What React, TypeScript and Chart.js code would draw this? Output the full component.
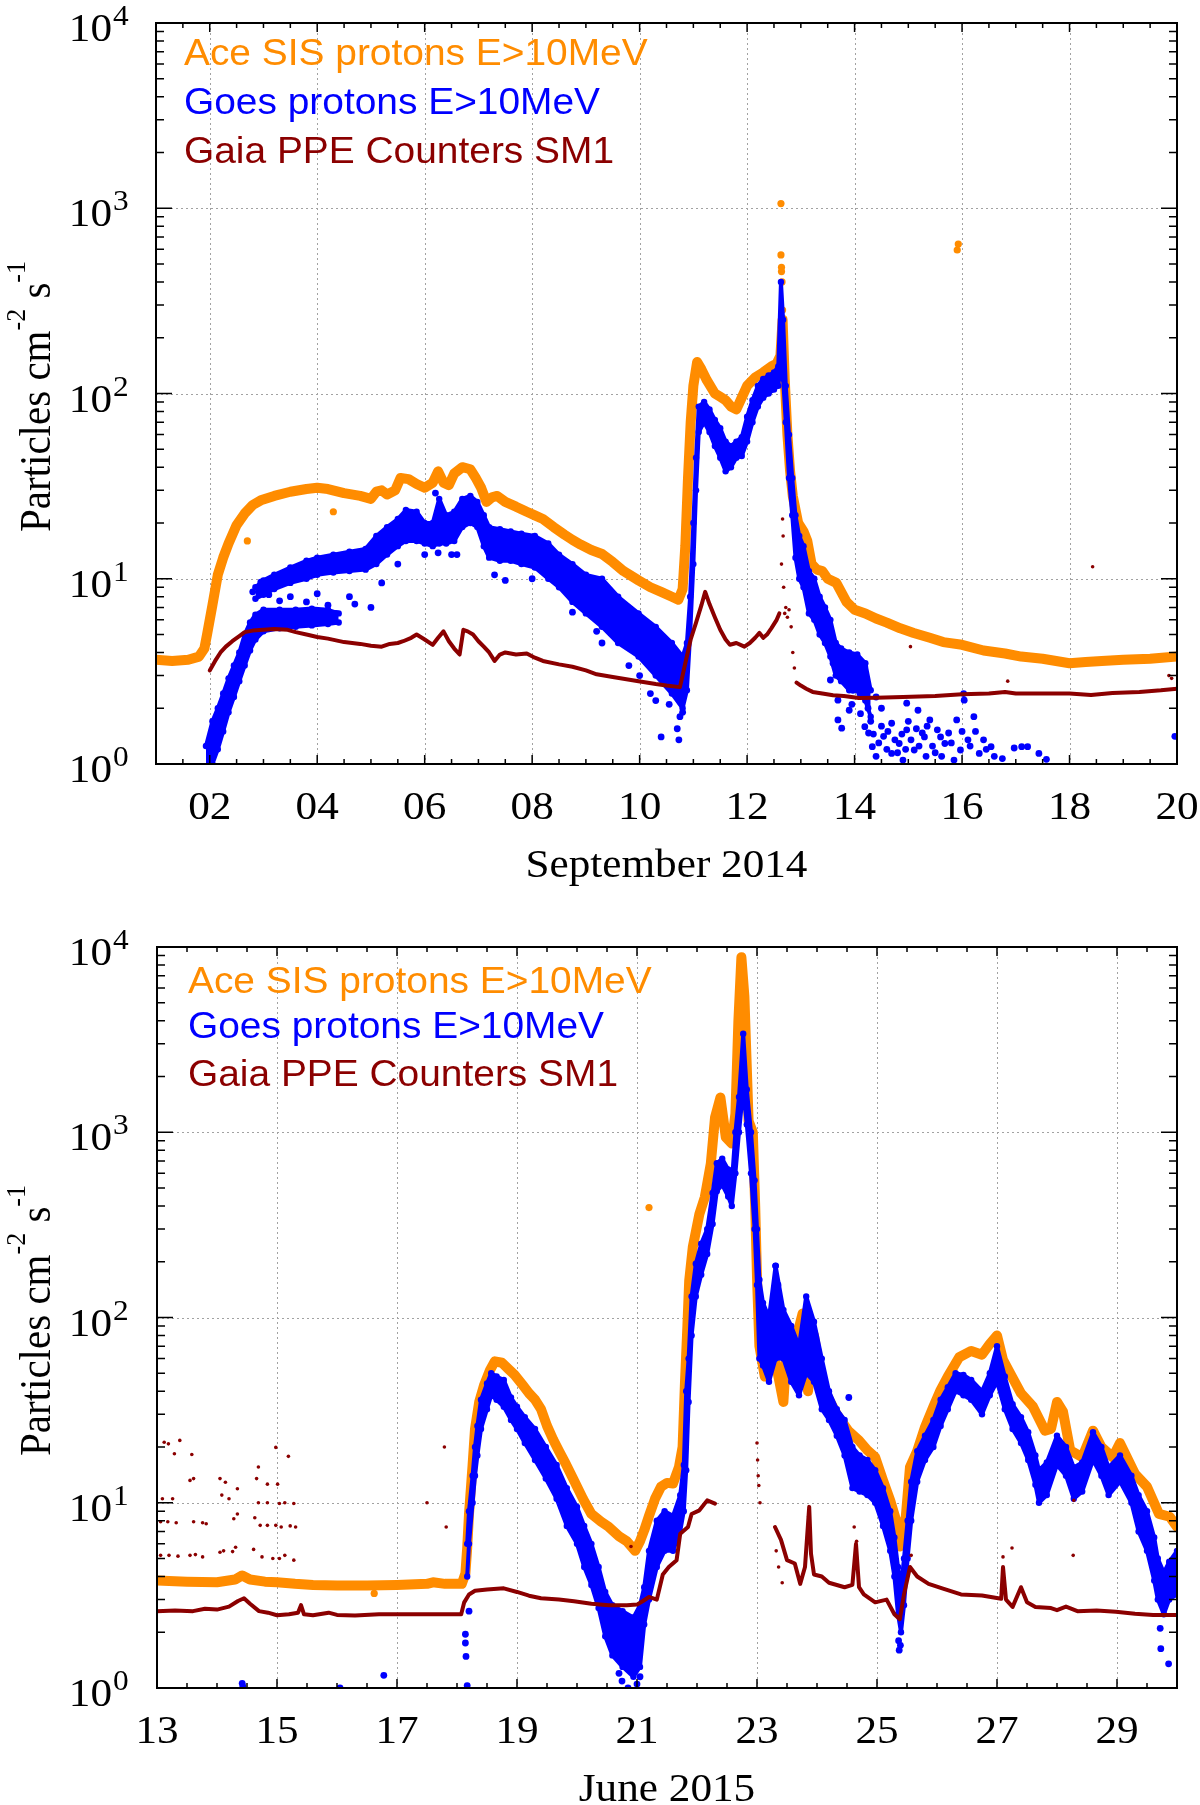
import React, { useEffect, useRef } from 'react';
import { Chart, registerables } from 'chart.js';

Chart.register(...registerables);

type P = [number, number];
type T = [number, number, number]; // [day, upper, lower]

const ORANGE = '#FF8C00';
const BLUE = '#0000FF';
const RED = '#8B0000';
const SERIF = '"Liberation Serif", "Times New Roman", Times, serif';
const SANS = '"Liberation Sans", Arial, Helvetica, sans-serif';
const SX = 1.08;

const LEGEND_TEXTS = ['Ace SIS protons E>10MeV', 'Goes protons E>10MeV', 'Gaia PPE Counters SM1'];
const LEGEND_COLORS = [ORANGE, BLUE, RED];
const Y_EXPONENTS = [0, 1, 2, 3, 4];

// ---------------- September 2014 ----------------
const sepTickDays = [2, 4, 6, 8, 10, 12, 14, 16, 18, 20];
const sepTitle = 'September 2014';

const sepAce: P[] = [
  [1.0, 3.65], [1.3, 3.6], [1.6, 3.65], [1.8, 3.8], [1.9, 4.2], [1.95, 5.0], [2.05, 7.2], [2.15, 10.5],
  [2.25, 13], [2.35, 15.5], [2.5, 19.5], [2.65, 22.5], [2.8, 25], [2.95, 26.5], [3.2, 28], [3.5, 29.5],
  [3.8, 30.5], [4.0, 31], [4.2, 30.5], [4.5, 29], [4.8, 28], [5.0, 27], [5.1, 29.5], [5.2, 30],
  [5.3, 28.5], [5.45, 30], [5.55, 35], [5.7, 34.5], [5.85, 32.5], [6.0, 31], [6.15, 33], [6.25, 38],
  [6.35, 33], [6.45, 32], [6.55, 37], [6.7, 40], [6.85, 39], [6.95, 35], [7.05, 31], [7.15, 26],
  [7.25, 27.5], [7.35, 28], [7.5, 26], [7.7, 24.5], [7.9, 23], [8.05, 22], [8.2, 21], [8.4, 19],
  [8.6, 17.3], [8.75, 16.2], [8.9, 15.3], [9.1, 14.3], [9.3, 13.6], [9.5, 12.3], [9.7, 11], [9.98, 9.8],
  [10.2, 9], [10.4, 8.5], [10.6, 8], [10.72, 7.7], [10.8, 8.8], [10.85, 15], [10.9, 35], [10.95, 70],
  [11.0, 110], [11.07, 148], [11.15, 135], [11.25, 118], [11.4, 100], [11.5, 96], [11.6, 92], [11.7, 85],
  [11.8, 82], [11.9, 95], [12.0, 110], [12.15, 122], [12.3, 130], [12.45, 140], [12.55, 145], [12.62, 160],
  [12.66, 250], [12.7, 120], [12.75, 60], [12.8, 38], [12.85, 28], [12.95, 20], [13.05, 18], [13.12, 16],
  [13.2, 12], [13.3, 11.2], [13.4, 11], [13.5, 10], [13.66, 9.5], [13.75, 8.5], [13.85, 7.5], [14.0, 6.8],
  [14.2, 6.5], [14.4, 6.1], [14.6, 5.8], [14.85, 5.4], [15.1, 5.1], [15.4, 4.8], [15.65, 4.55], [16.0, 4.4],
  [16.4, 4.1], [16.8, 3.95], [17.1, 3.8], [17.5, 3.7], [18.0, 3.5], [18.3, 3.55], [18.6, 3.6], [19.0, 3.65],
  [19.5, 3.7], [20.0, 3.8],
];
const sepAceDots: P[] = [
  [2.7, 16], [4.3, 23], [12.63, 1060], [12.63, 560], [12.64, 480], [12.64, 455], [12.65, 400],
  [12.66, 282], [15.91, 595], [15.93, 641],
];

const sepGoesRise: T[] = [
  [1.93, 1.25, 0.9], [2.05, 1.7, 1.0], [2.15, 2.0, 1.2], [2.25, 2.4, 1.5], [2.35, 2.9, 1.9],
  [2.45, 3.4, 2.3], [2.55, 4.0, 2.8], [2.65, 5.0, 3.4], [2.75, 5.8, 4.1], [2.85, 6.4, 4.7],
  [3.0, 6.8, 5.2], [3.3, 6.8, 5.4], [3.6, 6.8, 5.5], [3.9, 6.9, 5.6], [4.2, 6.8, 5.7], [4.4, 6.5, 5.8],
];
const sepGoesMain: T[] = [
  [2.85, 9.0, 7.8], [3.0, 9.8, 8.2], [3.2, 10.5, 8.8], [3.5, 11.5, 9.5], [3.8, 12.5, 10], [4.0, 13, 10.5],
  [4.3, 13.5, 10.8], [4.6, 14, 11], [4.9, 14.5, 11.2], [5.1, 17, 12], [5.3, 19, 13.5], [5.5, 21, 15],
  [5.65, 23.5, 16], [5.85, 23, 16], [6.0, 20, 15.5], [6.15, 20, 15], [6.27, 27, 15.5], [6.4, 22, 15.5],
  [6.55, 23, 16], [6.7, 27, 19], [6.85, 28, 20], [6.98, 26, 19], [7.1, 22, 15], [7.2, 19, 13],
  [7.4, 18.5, 12.5], [7.6, 18, 12.5], [7.8, 17.5, 12], [8.05, 17, 11.5], [8.3, 15.5, 10], [8.5, 13.5, 9],
  [8.75, 12, 7.5], [9.0, 10.5, 6.5], [9.3, 10, 5.5], [9.6, 8, 4.5], [9.98, 6.5, 3.8], [10.3, 5.5, 3.0],
  [10.6, 4.5, 2.4], [10.8, 3.8, 2.0], [10.88, 4.5, 2.5], [10.94, 8, 5], [11.0, 20, 12], [11.05, 45, 30],
  [11.1, 85, 62], [11.2, 90, 70], [11.3, 82, 62], [11.4, 72, 52], [11.5, 65, 45], [11.6, 55, 38],
  [11.7, 52, 40], [11.8, 55, 45], [11.9, 58, 46], [12.0, 75, 55], [12.1, 92, 70], [12.2, 110, 85],
  [12.3, 120, 95], [12.4, 125, 100], [12.5, 130, 105], [12.58, 140, 110], [12.63, 400, 150],
  [12.67, 250, 120], [12.72, 110, 70], [12.78, 60, 35], [12.84, 35, 22], [12.9, 22, 13], [12.97, 17, 10],
  [13.05, 15, 9], [13.15, 11, 6.5], [13.25, 10, 6], [13.35, 8, 5], [13.45, 7, 4.5], [13.55, 6, 3.8],
  [13.65, 4.5, 3.0], [13.75, 4.2, 2.8], [13.9, 4.0, 2.5], [14.05, 3.9, 2.5], [14.2, 3.5, 2.2], [14.3, 2.5, 1.8],
];
const sepGoesDots: P[] = [
  [2.8, 8.5], [2.95, 9.6], [3.1, 8.2], [3.3, 7.6], [3.5, 8.0], [3.8, 7.5], [4.0, 8.3], [4.2, 7.2],
  [4.35, 6.5], [4.6, 8], [4.7, 7.3], [5.0, 7.0], [5.2, 9.5], [5.5, 12], [6.0, 13.5], [6.2, 29],
  [6.25, 13.8], [6.5, 13.5], [6.6, 13.5], [7.3, 10.5], [7.5, 9.8], [8.0, 10], [8.75, 6.6], [9.2, 5.2],
  [9.3, 4.5], [9.8, 3.4], [10.0, 3.0], [10.2, 2.4], [10.3, 2.2], [10.4, 1.4], [10.55, 2.1], [10.7, 1.55],
  [10.73, 1.35], [10.75, 1.8], [10.8, 1.9],
  [13.55, 2.84], [13.69, 2.21], [13.69, 1.73], [13.69, 3.2], [13.76, 1.56], [13.83, 3.8], [13.9, 1.95],
  [13.97, 2.5], [14.05, 3.35], [14.11, 1.87], [14.19, 1.59], [14.19, 3.35], [14.19, 2.6], [14.26, 1.47],
  [14.33, 1.24], [14.4, 1.1], [14.54, 1.41], [14.69, 1.66], [14.69, 1.14], [14.83, 1.29], [14.9, 1.05],
  [14.97, 2.13], [14.97, 1.53], [15.11, 1.19], [15.18, 1.95], [15.26, 1.47], [15.33, 1.1], [15.4, 1.73],
  [15.54, 1.53], [15.68, 1.29], [15.75, 1.47], [15.9, 1.73], [15.97, 1.19], [16.04, 2.21], [16.11, 1.35],
  [16.22, 1.8], [16.32, 1.14], [16.4, 1.35], [16.54, 1.24], [16.75, 1.07], [16.97, 1.22], [17.11, 1.24],
  [17.22, 1.24], [17.43, 1.14], [17.57, 1.06], [19.96, 1.41],
  [14.3, 1.7], [14.35, 1.45], [14.45, 1.3], [14.5, 1.6], [14.6, 1.2], [14.62, 1.5], [14.75, 1.35],
  [14.8, 1.15], [14.88, 1.45], [14.95, 1.2], [15.0, 1.7], [15.05, 1.35], [15.15, 1.55], [15.2, 1.25],
  [15.3, 1.4], [15.35, 1.6], [15.45, 1.25], [15.5, 1.15], [15.6, 1.4], [15.62, 1.1], [15.8, 1.3],
  [15.85, 1.05], [16.0, 1.5], [16.15, 1.25], [16.25, 1.5], [16.45, 1.2], [16.6, 1.1], [13.6, 3.5],
  [13.8, 2.9], [13.95, 2.1], [14.1, 2.4], [14.15, 3.0], [14.25, 2.0], [14.4, 2.3], [14.5, 2.0], [16.03, 2.4],
];

const sepGaiaA: P[] = [
  [2.0, 3.2], [2.1, 3.6], [2.2, 4.0], [2.3, 4.3], [2.42, 4.6], [2.55, 4.9], [2.65, 5.15], [2.8, 5.25],
  [3.0, 5.3], [3.2, 5.35], [3.45, 5.3], [3.6, 5.15], [3.8, 5.0], [4.0, 4.85], [4.2, 4.75], [4.5, 4.55],
  [4.8, 4.45], [5.0, 4.35], [5.2, 4.3], [5.35, 4.45], [5.5, 4.5], [5.6, 4.6], [5.75, 4.8], [5.85, 5.0],
  [6.0, 4.7], [6.15, 4.4], [6.25, 4.8], [6.35, 5.2], [6.45, 4.6], [6.55, 4.2], [6.65, 3.9], [6.72, 5.3],
  [6.8, 5.2], [6.9, 5.0], [7.0, 4.6], [7.1, 4.3], [7.2, 4.0], [7.3, 3.6], [7.4, 3.9], [7.5, 4.0],
  [7.7, 3.9], [7.9, 3.95], [8.05, 3.75], [8.2, 3.6], [8.5, 3.45], [8.75, 3.35], [9.0, 3.2], [9.2, 3.05],
  [9.5, 2.95], [9.98, 2.8], [10.3, 2.7], [10.5, 2.65], [10.75, 2.6], [10.85, 3.5], [10.95, 4.7],
  [11.05, 5.8], [11.15, 7.2], [11.22, 8.5], [11.3, 7.3], [11.4, 6.2], [11.5, 5.3], [11.6, 4.7],
  [11.68, 4.4], [11.8, 4.5], [11.95, 4.3], [12.05, 4.5], [12.15, 4.8], [12.23, 5.1], [12.3, 4.8],
  [12.37, 5.0], [12.45, 5.4], [12.55, 6.0], [12.6, 6.5],
];
const sepGaiaB: P[] = [
  [12.92, 2.75], [13.0, 2.65], [13.1, 2.55], [13.22, 2.45], [13.4, 2.4], [13.6, 2.35], [13.8, 2.33],
  [14.08, 2.27], [14.4, 2.28], [14.9, 2.3], [15.5, 2.33], [16.0, 2.38], [16.5, 2.4], [16.8, 2.45],
  [17.0, 2.4], [17.5, 2.4], [18.0, 2.4], [18.4, 2.36], [18.8, 2.42], [19.3, 2.45], [19.7, 2.5], [20.0, 2.55],
];
const sepGaiaDots: P[] = [
  [12.64, 12], [12.66, 21], [12.67, 17], [12.68, 9], [12.7, 6.5], [12.72, 7], [12.75, 6.2], [12.78, 6.8],
  [12.82, 5.5], [12.85, 4], [12.88, 3.3], [18.43, 11.6], [15.04, 4.3], [16.85, 2.8], [19.85, 3.0], [19.9, 2.9],
];

// ---------------- June 2015 ----------------
const junTickDays = [13, 15, 17, 19, 21, 23, 25, 27, 29];
const junTitle = 'June 2015';

const junAce: P[] = [
  [13.0, 3.8], [13.5, 3.75], [14.0, 3.72], [14.3, 3.85], [14.42, 4.05], [14.55, 3.85], [14.8, 3.75],
  [15.0, 3.72], [15.3, 3.65], [15.6, 3.6], [16.0, 3.58], [16.5, 3.58], [17.0, 3.6], [17.5, 3.65],
  [17.6, 3.72], [17.8, 3.65], [18.08, 3.65], [18.14, 4.15], [18.17, 5.7], [18.2, 8.7], [18.26, 16],
  [18.3, 25], [18.37, 35], [18.45, 43], [18.55, 52], [18.63, 58], [18.75, 57], [18.85, 53], [18.96, 49],
  [19.1, 43], [19.2, 39], [19.3, 36], [19.4, 32], [19.5, 26], [19.6, 22], [19.7, 19], [19.8, 16.5],
  [19.95, 13.2], [20.1, 10.5], [20.24, 8.7], [20.4, 7.9], [20.53, 7.4], [20.7, 6.6], [20.83, 6.2],
  [20.97, 5.5], [21.05, 6.2], [21.12, 7.1], [21.2, 8.5], [21.3, 10.5], [21.4, 12.2], [21.5, 12.8],
  [21.6, 12.7], [21.7, 15.6], [21.76, 20], [21.8, 45], [21.84, 90], [21.87, 158], [21.93, 240],
  [22.04, 362], [22.13, 446], [22.23, 677], [22.3, 1200], [22.39, 1540], [22.48, 940], [22.58, 870],
  [22.64, 1255], [22.69, 4000], [22.74, 8800], [22.79, 5400], [22.86, 1150], [22.93, 1000], [22.97, 400],
  [23.0, 165], [23.04, 70], [23.13, 48], [23.25, 72], [23.38, 44], [23.44, 35], [23.5, 72], [23.63, 72],
  [23.76, 105], [23.85, 40], [23.95, 80], [24.08, 44], [24.2, 36], [24.33, 30], [24.52, 24.5],
  [24.7, 21.7], [24.84, 19.2], [24.97, 17.6], [25.1, 13.2], [25.22, 10.3], [25.32, 8.0], [25.38, 5.8],
  [25.48, 8.4], [25.55, 15.6], [25.67, 19], [25.8, 25.6], [25.94, 33], [26.06, 40.6], [26.18, 48],
  [26.37, 61], [26.57, 66], [26.75, 63], [26.88, 72], [27.0, 80], [27.1, 59], [27.22, 50], [27.4, 39],
  [27.6, 33], [27.8, 24.5], [27.9, 25], [28.0, 35], [28.1, 31], [28.22, 19.2], [28.42, 17.6], [28.6, 24.5],
  [28.74, 20], [28.93, 17.6], [29.05, 21], [29.3, 14.3], [29.5, 12.2], [29.7, 8.7], [29.88, 8.4], [30.0, 7.4],
];
const junAceDots: P[] = [[16.62, 3.24], [21.2, 392]];

const junGoesBand: T[] = [
  [18.17, 6, 4], [18.2, 9, 6], [18.26, 14, 10], [18.3, 20, 14], [18.34, 26, 18], [18.4, 36, 25],
  [18.5, 44, 32], [18.57, 50, 38], [18.66, 48, 36], [18.78, 46, 33], [18.9, 37, 28], [19.0, 33, 25],
  [19.13, 29, 21], [19.3, 25, 17], [19.48, 20, 13.5], [19.66, 16, 10.5], [19.83, 12, 7.5], [20.0, 9.5, 6],
  [20.12, 7.5, 4.5], [20.24, 6, 3.6], [20.36, 4.5, 2.7], [20.47, 3.3, 1.9], [20.59, 2.8, 1.5],
  [20.76, 2.6, 1.3], [20.94, 2.4, 1.15], [21.05, 2.8, 1.3], [21.12, 3.5, 2.2], [21.2, 5.5, 3.0],
  [21.33, 8.0, 4.5], [21.46, 9.0, 5.5], [21.6, 8.5, 5.5], [21.72, 11, 7], [21.78, 16, 9], [21.82, 40, 15],
  [21.86, 60, 35], [21.91, 130, 80], [21.98, 195, 130], [22.07, 250, 170], [22.17, 300, 220],
  [22.26, 470, 320], [22.33, 680, 480], [22.42, 720, 520], [22.52, 630, 450], [22.58, 530, 400],
  [22.64, 1000, 600], [22.7, 1550, 1000], [22.77, 3400, 1700], [22.83, 1700, 1100], [22.9, 1000, 600],
  [22.96, 550, 300], [23.0, 300, 150], [23.04, 160, 60], [23.1, 120, 55], [23.2, 100, 45],
  [23.31, 190, 60], [23.44, 110, 60], [23.57, 90, 45], [23.7, 70, 38], [23.82, 130, 50], [23.95, 95, 45],
  [24.08, 60, 32], [24.2, 40, 28], [24.33, 32, 23], [24.46, 28, 18], [24.59, 20, 12], [24.71, 18, 11.5],
  [24.84, 17, 11], [24.97, 15, 10], [25.1, 12, 7.5], [25.22, 9, 5.5], [25.29, 6.5, 4], [25.35, 4.5, 2.5],
  [25.4, 3.5, 2.0], [25.45, 5, 2.8], [25.51, 8, 5], [25.57, 13, 8], [25.67, 19, 13], [25.8, 23, 17],
  [25.94, 28, 20], [26.06, 36, 26], [26.18, 42, 32], [26.31, 50, 40], [26.44, 49, 38], [26.57, 46, 36],
  [26.75, 40, 30], [26.88, 50, 38], [27.0, 70, 45], [27.13, 48, 32], [27.26, 34, 25], [27.4, 29, 21],
  [27.52, 24, 17], [27.64, 18, 12.5], [27.7, 15, 10], [27.83, 16.5, 11], [28.0, 23, 16], [28.15, 20, 14],
  [28.28, 15.5, 10.5], [28.42, 16.5, 11.5], [28.6, 24, 17], [28.74, 20, 14], [28.86, 15.5, 11],
  [29.05, 18, 13], [29.24, 14, 10], [29.36, 11, 7], [29.5, 9, 5.5], [29.62, 6.5, 3.8], [29.68, 5, 3],
  [29.78, 4.2, 2.5], [29.87, 4.8, 3], [30.0, 5.5, 3.2],
];
const junGoesDots: P[] = [
  [14.42, 1.06], [14.43, 1.02], [16.05, 1.0], [16.78, 1.17], [18.14, 1.95], [18.14, 1.75], [18.15, 1.48],
  [18.17, 1.03], [18.2, 2.6], [20.7, 1.2], [20.75, 1.09], [20.85, 1.0], [20.9, 1.3], [21.0, 1.05],
  [21.05, 1.15], [23.31, 190], [23.35, 150], [23.82, 92], [24.53, 37], [25.36, 1.8], [25.37, 1.6],
  [25.39, 1.7], [29.72, 2.1], [29.73, 1.63], [29.86, 1.35],
];

const junGaiaA: P[] = [
  [13.0, 2.6], [13.3, 2.62], [13.6, 2.6], [13.8, 2.68], [14.0, 2.65], [14.2, 2.75], [14.35, 2.95],
  [14.45, 3.05], [14.55, 2.85], [14.7, 2.6], [14.85, 2.55], [15.0, 2.47], [15.2, 2.5], [15.35, 2.55],
  [15.4, 2.8], [15.45, 2.5], [15.6, 2.47], [15.86, 2.55], [16.0, 2.48], [16.3, 2.46], [16.7, 2.5],
  [17.0, 2.5], [17.5, 2.5], [17.9, 2.5], [18.07, 2.5], [18.12, 2.9], [18.2, 3.2], [18.3, 3.35],
  [18.5, 3.4], [18.78, 3.45], [19.0, 3.3], [19.2, 3.15], [19.4, 3.05], [19.7, 3.0], [19.95, 2.94],
  [20.24, 2.85], [20.53, 2.8], [20.83, 2.8], [21.0, 2.82], [21.1, 2.95], [21.2, 3.1], [21.33, 3.0],
  [21.43, 4.1], [21.53, 4.5], [21.66, 4.9], [21.72, 6.8], [21.85, 7.4], [21.91, 8.7], [22.04, 9.1],
  [22.17, 10.3], [22.3, 9.9],
];
const junGaiaB: P[] = [
  [23.3, 7.4], [23.4, 6.3], [23.5, 4.9], [23.63, 4.7], [23.72, 3.65], [23.8, 4.5], [23.87, 9.5],
  [23.9, 5.3], [23.95, 4.1], [24.08, 4.0], [24.2, 3.7], [24.46, 3.5], [24.59, 3.6], [24.65, 6.0],
  [24.7, 3.5], [24.78, 3.2], [24.97, 2.9], [25.16, 3.0], [25.29, 2.5], [25.38, 2.35], [25.45, 3.2],
  [25.55, 4.5], [25.67, 4.0], [25.86, 3.65], [26.1, 3.44], [26.4, 3.2], [26.75, 3.16], [27.07, 3.03],
  [27.1, 4.5], [27.15, 3.0], [27.26, 2.74], [27.4, 3.5], [27.5, 2.9], [27.64, 2.74], [27.9, 2.7],
  [28.0, 2.63], [28.15, 2.75], [28.34, 2.6], [28.66, 2.62], [28.98, 2.58], [29.3, 2.52], [29.6, 2.48],
  [30.0, 2.48],
];
const junGaiaDots: P[] = [
  [13.12, 21.2], [13.19, 20.8], [13.38, 21.7], [13.29, 18.4], [13.58, 18.2], [13.55, 13.2], [13.61, 13.5],
  [13.09, 10.5], [13.26, 10.5], [13.06, 7.9], [13.18, 7.9], [13.32, 7.8], [13.61, 7.9], [13.76, 7.8],
  [13.82, 7.7], [13.06, 5.2], [13.2, 5.2], [13.35, 5.15], [13.55, 5.2], [13.64, 5.25], [13.76, 5.1],
  [14.05, 13.5], [14.14, 12.9], [14.08, 11], [14.2, 10.5], [14.05, 5.4], [14.11, 5.5], [14.26, 5.45],
  [14.31, 5.75], [14.34, 8.7], [14.28, 8.2], [14.34, 11.9], [14.69, 15.6], [14.66, 13.5], [14.84, 12.6],
  [14.98, 19.9], [15.01, 12.6], [15.19, 17.8], [14.69, 10], [14.84, 10], [15.04, 9.9], [15.13, 10],
  [15.28, 9.9], [14.63, 8.3], [14.72, 7.55], [14.84, 7.55], [14.98, 7.55], [15.07, 7.4], [15.22, 7.5],
  [15.31, 7.4], [14.61, 5.6], [14.75, 5.1], [14.93, 5.0], [15.04, 5.0], [15.13, 5.2], [15.28, 4.9],
  [17.79, 20], [17.5, 10], [17.82, 7.4], [20.9, 5.8],
  [23.0, 21], [23.01, 17], [23.02, 14], [23.03, 12.4], [23.05, 10], [23.32, 5.5], [23.36, 4.5],
  [23.42, 3.7], [23.86, 8.4], [23.88, 6.5], [24.62, 7.4], [24.66, 6.2], [27.1, 5.1], [27.25, 5.7],
  [28.27, 5.2], [28.28, 10.3], [25.57, 5.2],
];

// ---------------- helpers ----------------
const pts = (a: P[]) => a.map(([x, y]) => ({ x, y }));

function lineDs(data: P[], color: string, width: number, order: number) {
  return {
    data: pts(data), borderColor: color, backgroundColor: color, borderWidth: width, pointRadius: 0,
    showLine: true, fill: false, tension: 0, order, borderCapStyle: 'round', borderJoinStyle: 'round',
  };
}
function dotDs(data: P[], color: string, r: number, order: number) {
  return {
    data: pts(data), showLine: false, pointRadius: r, pointBackgroundColor: color, pointBorderWidth: 0,
    borderColor: color, backgroundColor: color, fill: false, order,
  };
}
function bandDs(tri: T[], color: string, order: number) {
  const common = {
    borderColor: color, backgroundColor: color, borderWidth: 4, pointRadius: 3.2,
    pointBackgroundColor: color, pointBorderWidth: 0, showLine: true, tension: 0, order,
    borderJoinStyle: 'round', borderCapStyle: 'round',
  };
  return [
    { ...common, data: tri.map((t) => ({ x: t[0], y: t[2] })), fill: false },
    { ...common, data: tri.map((t) => ({ x: t[0], y: t[1] })), fill: '-1' },
  ];
}

function drawText(ctx: CanvasRenderingContext2D, text: string, x: number, y: number, font: string,
  color: string, align: 'left' | 'center' | 'right') {
  ctx.save();
  ctx.font = font;
  ctx.fillStyle = color;
  ctx.textBaseline = 'alphabetic';
  ctx.textAlign = 'left';
  const w = ctx.measureText(text).width * SX;
  const x0 = align === 'center' ? x - w / 2 : align === 'right' ? x - w : x;
  ctx.translate(x0, y);
  ctx.scale(SX, 1);
  ctx.fillText(text, 0, 0);
  ctx.restore();
  return w;
}

type PanelCfg = {
  xMin: number; xMax: number; ticks: number[]; title: string;
  legendX: number; legendBaselines: number[];
};

function axesPlugin(cfg: PanelCfg) {
  return {
    id: 'gnuAxes',
    beforeDatasetsDraw(chart: any) {
      const { ctx, chartArea: a, scales } = chart;
      const xs = scales.x, ys = scales.y;
      ctx.save();
      ctx.strokeStyle = '#a2a2a2';
      ctx.lineWidth = 1;
      ctx.setLineDash([2, 3]);
      ctx.beginPath();
      for (const v of cfg.ticks) {
        const px = Math.round(xs.getPixelForValue(v)) + 0.5;
        if (px <= a.left + 2 || px >= a.right - 2) continue;
        ctx.moveTo(px, a.top); ctx.lineTo(px, a.bottom);
      }
      for (const e of Y_EXPONENTS) {
        const py = Math.round(ys.getPixelForValue(Math.pow(10, e))) + 0.5;
        if (py <= a.top + 2 || py >= a.bottom - 2) continue;
        ctx.moveTo(a.left, py); ctx.lineTo(a.right, py);
      }
      ctx.stroke();
      ctx.restore();
    },
    afterDatasetsDraw(chart: any) {
      const { ctx, chartArea: a, scales } = chart;
      const xs = scales.x, ys = scales.y;
      ctx.save();
      ctx.strokeStyle = '#000';
      ctx.setLineDash([]);
      ctx.lineWidth = 1.5;
      ctx.beginPath();
      const nHalf = Math.round((cfg.xMax - cfg.xMin) * 2);
      for (let i = 0; i <= nHalf; i++) {
        const v = cfg.xMin + i * 0.5;
        const major = cfg.ticks.indexOf(v) >= 0;
        const len = major ? 9 : 5;
        const px = xs.getPixelForValue(v);
        ctx.moveTo(px, a.bottom); ctx.lineTo(px, a.bottom - len);
        ctx.moveTo(px, a.top); ctx.lineTo(px, a.top + len);
      }
      for (let e = 0; e < 4; e++) {
        for (let m = 1; m <= 9; m++) {
          const py = ys.getPixelForValue(m * Math.pow(10, e));
          const len = m === 1 ? 16 : 8;
          ctx.moveTo(a.left, py); ctx.lineTo(a.left + len, py);
          ctx.moveTo(a.right, py); ctx.lineTo(a.right - len, py);
        }
      }
      ctx.stroke();
      ctx.lineWidth = 2;
      ctx.strokeRect(a.left, a.top, a.right - a.left, a.bottom - a.top);
      ctx.restore();

      for (const v of cfg.ticks) {
        const label = v < 10 ? '0' + v : String(v);
        drawText(ctx, label, xs.getPixelForValue(v), a.bottom + 55, `40px ${SERIF}`, '#000', 'center');
      }
      for (const e of Y_EXPONENTS) {
        const py = ys.getPixelForValue(Math.pow(10, e));
        drawText(ctx, '10', 112, py + 18, `40px ${SERIF}`, '#000', 'right');
        drawText(ctx, String(e), 113, py + 2, `29px ${SERIF}`, '#000', 'left');
      }
      drawText(ctx, cfg.title, (a.left + a.right) / 2, a.bottom + 113, `40px ${SERIF}`, '#000', 'center');
      const segs = [
        { t: 'Particles cm', f: `41px ${SERIF}`, dy: 0 },
        { t: '-2', f: `26px ${SERIF}`, dy: -23 },
        { t: ' s', f: `41px ${SERIF}`, dy: 0 },
        { t: '-1', f: `26px ${SERIF}`, dy: -23 },
      ];
      ctx.save();
      let total = 0;
      const widths = segs.map((s) => { ctx.font = s.f; const w = ctx.measureText(s.t).width; total += w; return w; });
      ctx.translate(50, (a.top + a.bottom) / 2 + 3);
      ctx.scale(SX, 1);
      ctx.rotate(-Math.PI / 2);
      ctx.fillStyle = '#000';
      ctx.textBaseline = 'alphabetic';
      ctx.textAlign = 'left';
      let x = -total / 2;
      segs.forEach((s, i) => { ctx.font = s.f; ctx.fillText(s.t, x, s.dy); x += widths[i]; });
      ctx.restore();
      LEGEND_TEXTS.forEach((t, i) => {
        drawText(ctx, t, cfg.legendX, cfg.legendBaselines[i], `36px ${SANS}`, LEGEND_COLORS[i], 'left');
      });
    },
  };
}

function buildConfig(cfg: PanelCfg, datasets: any[], padding: any) {
  return {
    type: 'line',
    data: { datasets },
    options: {
      animation: false,
      responsive: false,
      maintainAspectRatio: false,
      events: [],
      layout: { padding },
      plugins: { legend: { display: false }, tooltip: { enabled: false }, title: { display: false } },
      scales: {
        x: { type: 'linear', min: cfg.xMin, max: cfg.xMax, display: false },
        y: { type: 'logarithmic', min: 1, max: 10000, display: false },
      },
    },
    plugins: [axesPlugin(cfg)],
  };
}

function Panel({ top, height, cfg, datasets, padding }: any) {
  const ref = useRef<HTMLCanvasElement>(null);
  useEffect(() => {
    const chart = new Chart(ref.current as HTMLCanvasElement, buildConfig(cfg, datasets, padding) as any);
    return () => chart.destroy();
  }, []);
  return (
    <canvas ref={ref} width={1200} height={height}
      style={{ position: 'absolute', left: 0, top, width: 1200, height, display: 'block' }} />
  );
}

const sepCfg: PanelCfg = {
  xMin: 1, xMax: 20, ticks: sepTickDays, title: sepTitle, legendX: 184, legendBaselines: [65, 114, 163],
};
const junCfg: PanelCfg = {
  xMin: 13, xMax: 30, ticks: junTickDays, title: junTitle, legendX: 188, legendBaselines: [93, 138, 186],
};

const sepDatasets = [
  lineDs(sepAce, ORANGE, 10, 3),
  dotDs(sepAceDots, ORANGE, 3.6, 3),
  ...bandDs(sepGoesRise, BLUE, 2),
  ...bandDs(sepGoesMain, BLUE, 2),
  dotDs(sepGoesDots, BLUE, 3.4, 2),
  lineDs(sepGaiaA, RED, 4, 1),
  lineDs(sepGaiaB, RED, 4, 1),
  dotDs(sepGaiaDots, RED, 1.8, 1),
];
const junDatasets = [
  lineDs(junAce, ORANGE, 10, 3),
  dotDs(junAceDots, ORANGE, 3.6, 3),
  ...bandDs(junGoesBand, BLUE, 2),
  dotDs(junGoesDots, BLUE, 3.4, 2),
  lineDs(junGaiaA, RED, 4, 1),
  lineDs(junGaiaB, RED, 4, 1),
  dotDs(junGaiaDots, RED, 1.8, 1),
];

export default function App() {
  return (
    <div style={{ position: 'absolute', left: 0, top: 0, width: 1200, height: 1805, background: '#fff', overflow: 'hidden' }}>
      <Panel top={0} height={900} cfg={sepCfg} datasets={sepDatasets}
        padding={{ left: 156, right: 23, top: 23, bottom: 136 }} />
      <Panel top={900} height={905} cfg={junCfg} datasets={junDatasets}
        padding={{ left: 157, right: 23, top: 47, bottom: 117 }} />
    </div>
  );
}
